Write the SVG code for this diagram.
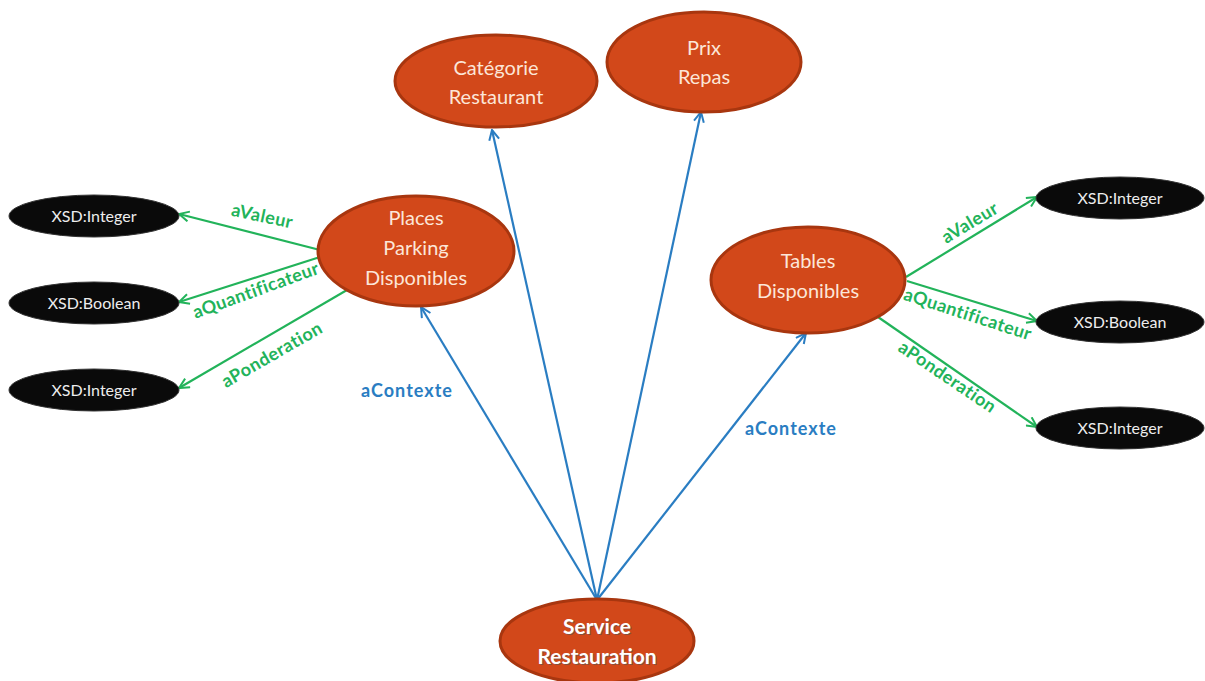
<svg xmlns="http://www.w3.org/2000/svg" width="1205" height="681" viewBox="0 0 1205 681">
<defs>
<marker id="ag" viewBox="0 0 12 12" refX="11" refY="6" markerWidth="12" markerHeight="12" markerUnits="userSpaceOnUse" orient="auto"><path d="M1,1 L11,6 L1,11" fill="none" stroke="#22B35A" stroke-width="2"/></marker>
<marker id="ab" viewBox="0 0 12 12" refX="11" refY="6" markerWidth="12" markerHeight="12" markerUnits="userSpaceOnUse" orient="auto"><path d="M1,1 L11,6 L1,11" fill="none" stroke="#2A7DC2" stroke-width="2"/></marker>
</defs>
<style>
.o{fill:#D2481A;stroke:#A8360F;stroke-width:3}
.k{fill:#0a0a0a;stroke:#333;stroke-width:1}
.t{font-family:Lato,"Open Sans",sans-serif;font-size:20px;fill:#FCE6D8;text-anchor:middle}
.x{font-family:Lato,"Open Sans",sans-serif;font-size:16px;fill:#EDEDED;text-anchor:middle}
.g{stroke:#22B35A;stroke-width:2.2;fill:none;marker-end:url(#ag)}
.b{stroke:#2A7DC2;stroke-width:2.2;fill:none;marker-end:url(#ab)}
.lg{font-family:Lato,"Open Sans",sans-serif;font-size:18px;font-weight:bold;fill:#22B35A;text-anchor:middle;letter-spacing:0.5px}
.lb{font-family:Lato,"Open Sans",sans-serif;font-size:18px;font-weight:bold;fill:#2A7DC2;text-anchor:middle;letter-spacing:1px}
</style>
<rect width="1205" height="681" fill="#fff"/>
<g id="connectors">
<line class="g" x1="320" y1="250" x2="179" y2="214"/>
<line class="g" x1="320" y1="257" x2="179" y2="302"/>
<line class="g" x1="347" y1="290" x2="179" y2="388"/>
<line class="g" x1="906" y1="277" x2="1037" y2="197"/>
<line class="g" x1="907" y1="281" x2="1037" y2="321"/>
<line class="g" x1="878" y1="317" x2="1037" y2="427"/>
<line class="b" x1="597" y1="600" x2="421" y2="307"/>
<line class="b" x1="597" y1="600" x2="492" y2="130"/>
<line class="b" x1="597" y1="600" x2="701" y2="112"/>
<line class="b" x1="597" y1="600" x2="806" y2="333"/>
<text class="lg" transform="translate(261,222) rotate(12)">aValeur</text>
<text class="lg" transform="translate(258,296) rotate(-20)">aQuantificateur</text>
<text class="lg" transform="translate(275,360) rotate(-30)">aPonderation</text>
<text class="lg" transform="translate(973,228) rotate(-31)">aValeur</text>
<text class="lg" transform="translate(966,320) rotate(18)">aQuantificateur</text>
<text class="lg" transform="translate(944,382) rotate(34)">aPonderation</text>
<text class="lb" x="407" y="397">aContexte</text>
<text class="lb" x="791" y="435">aContexte</text>
</g>
<g id="categorie"><ellipse class="o" cx="496" cy="81" rx="101" ry="46"/><text class="t" x="496" y="75">Catégorie</text><text class="t" x="496" y="104">Restaurant</text></g>
<g id="prix"><ellipse class="o" cx="704" cy="62" rx="97" ry="50"/><text class="t" x="704" y="55">Prix</text><text class="t" x="704" y="84">Repas</text></g>
<g id="places"><ellipse class="o" cx="416" cy="251" rx="98" ry="55"/><text class="t" x="416" y="225">Places</text><text class="t" x="416" y="255">Parking</text><text class="t" x="416" y="285">Disponibles</text></g>
<g id="tables"><ellipse class="o" cx="808" cy="280" rx="97" ry="53"/><text class="t" x="808" y="268">Tables</text><text class="t" x="808" y="298">Disponibles</text></g>
<g id="service"><ellipse class="o" cx="597" cy="641" rx="97" ry="42"/>
<text class="t" x="598" y="635" style="font-weight:bold;font-size:21px;fill:#555" opacity="0.6">Service</text>
<text class="t" x="597" y="634" style="font-weight:bold;font-size:21px;fill:#fff">Service</text>
<text class="t" x="598" y="665" style="font-weight:bold;font-size:21px;fill:#555" opacity="0.6">Restauration</text>
<text class="t" x="597" y="664" style="font-weight:bold;font-size:21px;fill:#fff">Restauration</text></g>
<g id="int1"><ellipse class="k" cx="94" cy="216" rx="85" ry="21"/><text class="x" x="94" y="222">XSD:Integer</text></g>
<g id="bool1"><ellipse class="k" cx="94" cy="303" rx="85" ry="21"/><text class="x" x="94" y="309">XSD:Boolean</text></g>
<g id="int2"><ellipse class="k" cx="94" cy="390" rx="85" ry="21"/><text class="x" x="94" y="396">XSD:Integer</text></g>
<g id="int3"><ellipse class="k" cx="1120" cy="198" rx="84" ry="21"/><text class="x" x="1120" y="204">XSD:Integer</text></g>
<g id="bool2"><ellipse class="k" cx="1120" cy="322" rx="84" ry="21"/><text class="x" x="1120" y="328">XSD:Boolean</text></g>
<g id="int4"><ellipse class="k" cx="1120" cy="428" rx="84" ry="21"/><text class="x" x="1120" y="434">XSD:Integer</text></g>
</svg>
